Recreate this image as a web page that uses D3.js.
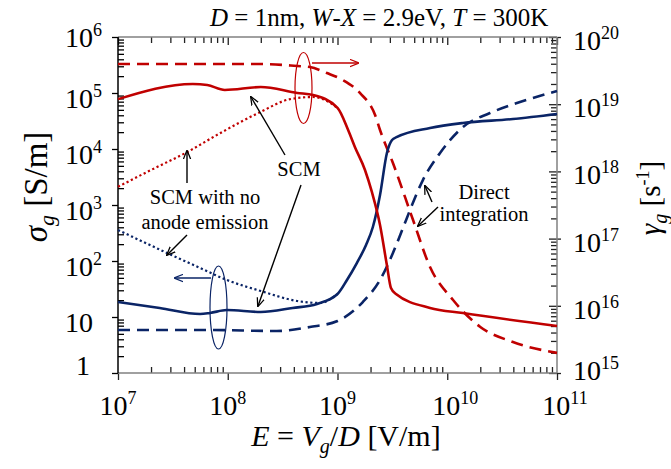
<!doctype html>
<html>
<head>
<meta charset="utf-8">
<script src="https://cdn.jsdelivr.net/npm/d3@7"></script>
</head>
<body style="margin:0;background:#fff">
<svg id="chart" width="671" height="469"></svg>
<script>

// E = Vg/D [V/m] vs value
// left axis: sigma_g [S/m] (blue)
var sigmaScm = [[1e7,18.5],[2.4e7,14.5],[5.6e7,11.3],[6.9e7,11.8],[9.8e7,13.3],[2e8,12.3],[3.9e8,14.5],[6.5e8,17.1],[1e9,25.7],[1.22e9,45.8],[1.5e9,92],[1.82e9,193],[2.1e9,405],[2.44e9,1510],[2.82e9,8490],[3.14e9,14500],[3.49e9,16400],[6.97e9,23700],[1.39e10,29100],[3.97e10,34300],[1e11,42200]];
var sigmaDirect = [[1e7,5.86],[6.9e7,5.86],[2.8e8,5.62],[5.6e8,6.63],[1e9,8.48],[1.7e9,18.5],[2.44e9,45.8],[3.2e9,139],[3.95e9,388],[4.58e9,814],[6e9,2790],[8.6e9,8490],[1.39e10,24700],[2.45e10,43900],[4.6e10,69000],[1e11,108600]];
var sigmaNoAnode = [[1e7,358],[2.8e7,139],[5.6e7,75],[9.8e7,45.8],[2e8,29.1],[4.3e8,19.3],[6.9e8,17.8],[1e9,25.7]];

// right axis: gamma_g [1/s] (red)
var gammaScm = [[1e7,1.19e19],[4.8e7,2.0e19],[6.5e7,1.93e19],[9.4e7,1.63e19],[2e8,1.8e19],[4.3e8,1.47e19],[6e8,1.37e19],[1e9,8.8e18],[1.25e9,4.13e18],[1.44e9,2.31e18],[1.78e9,1.05e18],[2.06e9,4.9e17],[2.44e9,1.6e17],[2.82e9,4.0e16],[3.07e9,1.84e16],[3.41e9,1.5e16],[6.97e9,9.3e15],[1.39e10,7.8e15],[1e11,5.0e15]];
var gammaDirect = [[1e7,3.96e19],[2e8,3.96e19],[4.3e8,3.7e19],[5.6e8,3.58e19],[8e8,2.91e19],[1.12e9,2.29e19],[1.6e9,1.47e19],[2.2e9,6.9e18],[2.44e9,4.13e18],[3.2e9,1.33e18],[4.88e9,1.89e17],[6.97e9,3.78e16],[1.13e10,1.22e16],[2e10,4.84e15],[3.97e10,2.89e15],[1e11,1.99e15]];
var gammaNoAnode = [[1e7,5.9e17],[2e7,1.05e18],[4.3e7,1.95e18],[8.5e7,3.7e18],[2e8,7.7e18],[3.7e8,1.19e19],[6e8,1.28e19],[8e8,1.12e19],[1e9,8.8e18]];

// tick exponents
var xExps = [7,8,9,10,11];
var leftExps = [0,1,2,3,4,5,6];
var rightExps = [15,16,17,18,19,20];

var RED = "#c00000", BLUE = "#0a2466";
var fam = ["Liberation", "Serif"].join(" ");

var svg = d3.select("#chart");

var x = d3.scaleLog().domain([1e7,1e11]).range([118,557]);
var yL = d3.scaleLog().domain([1,1e6]).range([373,37]);
var yR = d3.scaleLog().domain([1e15,1e20]).range([373,37]);

function minors(lo, hi){
  var out = [];
  for (var e = lo; e < hi; e++)
    for (var m = 2; m <= 9; m++) out.push(m * Math.pow(10, e));
  return out;
}
function pows(exps){ return exps.map(function(e){ return Math.pow(10, e); }); }

function txt(px, py, size){
  return svg.append("text").attr("x", px).attr("y", py).attr("font-size", size).attr("fill", "#000")
    .style("font-family", "'" + fam + "'");
}

// ---- axes (ticks only, frame drawn after)
function addAxis(axis, tx, ty, col){
  var g = svg.append("g").attr("transform","translate("+tx+","+ty+")").call(axis);
  g.select(".domain").remove();
  g.selectAll("text").remove();
  g.selectAll("line").attr("stroke", col).attr("stroke-width", 1.3);
}
addAxis(d3.axisBottom(x).tickValues(pows(xExps)).tickSize(7).tickFormat(""), 0, 373, "#222");
addAxis(d3.axisBottom(x).tickValues(minors(7,11)).tickSize(-6).tickFormat(""), 0, 373, "#222");
addAxis(d3.axisTop(x).tickValues(pows(xExps)).tickSize(-8).tickFormat(""), 0, 37, "#222");
addAxis(d3.axisTop(x).tickValues(minors(7,11)).tickSize(-6).tickFormat(""), 0, 37, "#222");
addAxis(d3.axisLeft(yL).tickValues(pows(leftExps)).tickSize(6).tickFormat(""), 118, 0, "#000");
addAxis(d3.axisLeft(yL).tickValues(minors(0,6)).tickSize(-6).tickFormat(""), 118, 0, "#000");
addAxis(d3.axisRight(yR).tickValues(pows(rightExps)).tickSize(4).tickFormat(""), 557, 0, "#222");
addAxis(d3.axisRight(yR).tickValues(pows(rightExps)).tickSize(-8).tickFormat(""), 557, 0, "#222");
addAxis(d3.axisRight(yR).tickValues(minors(15,20)).tickSize(-6).tickFormat(""), 557, 0, "#222");

// frame
var frame = svg.append("g").attr("stroke-width", 1.5);
frame.append("line").attr("x1",118).attr("x2",557).attr("y1",37).attr("y2",37).attr("stroke","#808080");
frame.append("line").attr("x1",118).attr("x2",557).attr("y1",373).attr("y2",373).attr("stroke","#808080");
frame.append("line").attr("x1",557).attr("x2",557).attr("y1",37).attr("y2",373).attr("stroke","#808080");
frame.append("line").attr("x1",118).attr("x2",118).attr("y1",37).attr("y2",373).attr("stroke","#000");

// ---- tick labels
function powText(sel, base, exp){
  sel.append("tspan").text(base);
  if (exp !== null) sel.append("tspan").attr("dy", -11).attr("font-size", 18).text(exp);
}
var TF = 28;
xExps.forEach(function(e){
  var t = txt(x(Math.pow(10,e)) + (e >= 10 ? 8 : 0), 415, TF).attr("text-anchor","middle");
  powText(t, "10", e);
});
leftExps.forEach(function(e, i){
  var ty = yL(Math.pow(10,e)) + (i === 0 ? 2 : (e === 6 ? 10 : 15));
  var t = txt(65, ty, TF);
  if (e === 0) { t.attr("x", 83).attr("text-anchor","middle"); powText(t, "1", null); }
  else if (e === 1) powText(t, "10", null);
  else powText(t, "10", e);
});
rightExps.forEach(function(e, i){
  var ty = yR(Math.pow(10,e)) + (i === 0 ? 7 : 13);
  powText(txt(573, ty, TF), "10", e);
});

// ---- axis titles and chart title
var title = txt(210, 26, 25);
title.append("tspan").attr("font-style","italic").text("D");
title.append("tspan").text(" = 1nm, ");
title.append("tspan").attr("font-style","italic").text("W");
title.append("tspan").text("-");
title.append("tspan").attr("font-style","italic").text("X");
title.append("tspan").text(" = 2.9eV, ");
title.append("tspan").attr("font-style","italic").text("T");
title.append("tspan").text(" = 300K");

var xt = txt(346, 446, 30).attr("text-anchor","middle");
xt.append("tspan").attr("font-style","italic").text("E");
xt.append("tspan").text(" = ");
xt.append("tspan").attr("font-style","italic").text("V");
xt.append("tspan").attr("font-style","italic").attr("font-size", 20).attr("dy", 7).text("g");
xt.append("tspan").attr("dy", -7).text("/");
xt.append("tspan").attr("font-style","italic").text("D");
xt.append("tspan").text(" [V/m]");

var lt = txt(0, 0, 33).attr("transform","translate(47,187) rotate(-90)").attr("text-anchor","middle");
lt.append("tspan").attr("font-style","italic").text("σ");
lt.append("tspan").attr("font-style","italic").attr("font-size", 22).attr("dy", 7).text("g");
lt.append("tspan").attr("dy", -7).text(" [S/m]");

var rt = txt(0, 0, 29).attr("transform","translate(660,198) rotate(-90)").attr("text-anchor","middle");
rt.append("tspan").attr("font-style","italic").text("γ");
rt.append("tspan").attr("font-style","italic").attr("font-size", 20).attr("dy", 7).text("g");
rt.append("tspan").attr("dy", -7).text(" [s");
rt.append("tspan").attr("font-size", 18).attr("dy", -11).text("-1");
rt.append("tspan").attr("dy", 11).text("]");

// ---- curves
var lineL = d3.line().x(function(d){ return x(d[0]); }).y(function(d){ return yL(d[1]); }).curve(d3.curveMonotoneX);
var lineR = d3.line().x(function(d){ return x(d[0]); }).y(function(d){ return yR(d[1]); }).curve(d3.curveMonotoneX);

function curve(data, gen, col, style){
  var p = svg.append("path").datum(data).attr("d", gen).attr("fill","none").attr("stroke", col)
    .attr("stroke-width", style === "dot" ? 2.2 : 2.6).attr("stroke-linejoin","round");
  if (style === "dash") p.attr("stroke-dasharray","12,7");
  if (style === "dot") p.attr("stroke-dasharray","2.2,2.6");
}
curve(sigmaNoAnode, lineL, BLUE, "dot");
curve(gammaNoAnode, lineR, RED, "dot");
curve(sigmaDirect, lineL, BLUE, "dash");
curve(gammaDirect, lineR, RED, "dash");
curve(sigmaScm, lineL, BLUE, "solid");
curve(gammaScm, lineR, RED, "solid");

// ---- annotations
var defs = svg.append("defs");
function marker(id, col){
  defs.append("marker").attr("id", id).attr("viewBox","0 -5 10 10").attr("refX", 9).attr("refY", 0)
    .attr("markerWidth", 9).attr("markerHeight", 9).attr("markerUnits","userSpaceOnUse").attr("orient","auto")
    .append("path").attr("d","M0,-4L10,0L0,4").attr("fill","none").attr("stroke", col).attr("stroke-width", 1.4);
}
marker("ak", "#000"); marker("ar", RED); marker("ab", BLUE);

function arrow(x1, y1, x2, y2, col, m){
  svg.append("line").attr("x1",x1).attr("y1",y1).attr("x2",x2).attr("y2",y2)
    .attr("stroke", col).attr("stroke-width", 1.4).attr("marker-end","url(#"+m+")");
}

// axis-ownership ellipses
svg.append("ellipse").attr("cx",303.5).attr("cy",88).attr("rx",8.5).attr("ry",35.5).attr("fill","none").attr("stroke",RED).attr("stroke-width",1.2);
arrow(312, 63, 358, 63, RED, "ar");
svg.append("ellipse").attr("cx",218.5).attr("cy",307.5).attr("rx",8.5).attr("ry",41.5).attr("fill","none").attr("stroke",BLUE).attr("stroke-width",1.2);
arrow(211, 278, 175, 278, BLUE, "ab");

function label(lines, cx, y0, dy){
  lines.forEach(function(s, i){
    txt(cx, y0 + i*dy, 20.5).attr("text-anchor","middle").text(s);
  });
}
label(["SCM"], 299, 176, 0);
arrow(285, 155, 251, 97, "#000", "ak");
arrow(301, 185, 258, 306, "#000", "ak");

label(["SCM with no", "anode emission"], 205, 204, 25);
arrow(187, 183, 187, 151, "#000", "ak");
arrow(187, 235, 167, 255, "#000", "ak");

label(["Direct", "integration"], 484, 199, 22);
arrow(432, 202, 425, 186, "#000", "ak");
arrow(438, 207, 418, 226, "#000", "ak");

</script>
</body>
</html>
